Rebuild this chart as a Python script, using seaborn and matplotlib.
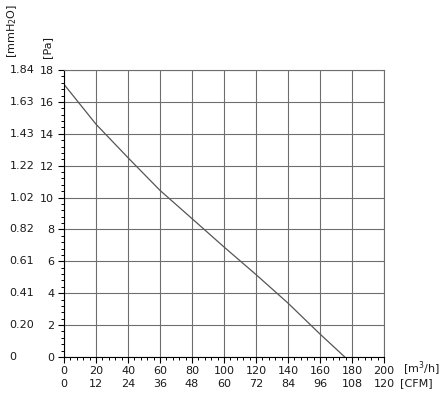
import matplotlib
matplotlib.use("Agg")
import matplotlib.pyplot as plt
import matplotlib.transforms as mtransforms
from matplotlib.ticker import MultipleLocator
import seaborn as sns
import pandas as pd

# Data
flow_m3h = [0, 20, 40, 60, 80, 100, 120, 140, 160, 175.5]
pressure_pa = [17.1, 14.6, 12.5, 10.45, 8.68, 6.9, 5.17, 3.38, 1.44, 0.0]

x_ticks = [0, 20, 40, 60, 80, 100, 120, 140, 160, 180, 200]
cfm_labels = ["0", "12", "24", "36", "48", "60", "72", "84", "96", "108", "120"]
pa_ticks = [0, 2, 4, 6, 8, 10, 12, 14, 16, 18]
mmh2o_labels = ["0", "0.20", "0.41", "0.61", "0.82", "1.02", "1.22", "1.43", "1.63", "1.84"]

sns.set_style("white")
plt.rcParams["font.family"] = ["DejaVu Sans"]
FS = 8
TC = "#1a1a1a"

df = pd.DataFrame({"flow": flow_m3h, "pa": pressure_pa})

W, H = 444, 394
fig = plt.figure(figsize=(W / 100, H / 100), dpi=100)
ax = fig.add_axes([64 / W, (H - 357) / H, 320 / W, 287 / H])

grid_c = "#6e6e6e"
sns.lineplot(data=df, x="flow", y="pa", ax=ax, color="#555555", linewidth=0.9)

ax.set_xlim(0, 200)
ax.set_ylim(0, 18)
ax.set_xticks(x_ticks)
ax.set_xticklabels([f"{a}\n{b}" for a, b in zip(x_ticks, cfm_labels)],
                   fontsize=FS, linespacing=1.35, color=TC)
ax.set_yticks(pa_ticks)
ax.set_yticklabels([str(v) for v in pa_ticks], fontsize=FS, color=TC)
ax.xaxis.set_minor_locator(MultipleLocator(4))
ax.yaxis.set_minor_locator(MultipleLocator(0.4))
ax.tick_params(axis="both", which="major", direction="out", length=4, width=0.8,
               color="black", bottom=True, left=True)
ax.tick_params(axis="both", which="minor", direction="out", length=2.5, width=0.7,
               color="black", bottom=True, left=True)
ax.tick_params(axis="y", which="major", pad=3)
ax.tick_params(axis="x", which="major", pad=2.5)
ax.grid(True, which="major", color=grid_c, linewidth=0.8)
ax.set_axisbelow(True)
ax.set_xlabel("")
ax.set_ylabel("")
for s in ["left", "bottom"]:
    ax.spines[s].set_color("black")
    ax.spines[s].set_linewidth(0.8)
for s in ["top", "right"]:
    ax.spines[s].set_color(grid_c)
    ax.spines[s].set_linewidth(0.8)

# mmH2O labels (left-aligned column)
trans = mtransforms.blended_transform_factory(fig.transFigure, ax.transData)
for v, lab in zip(pa_ticks, mmh2o_labels):
    ax.text(9.5 / W, v, lab, transform=trans, ha="left", va="center",
            fontsize=FS, color=TC)

# Axis unit labels
fig.text(12 / W, 1 - 4 / H, "[mmH$_2$O]", rotation=90, ha="center", va="top",
         fontsize=FS, color=TC)
fig.text(47 / W, 1 - 58 / H, "[Pa]", rotation=90, ha="center", va="bottom",
         fontsize=FS, color=TC)
fig.text(403 / W, 1 - 369 / H, "[m$^3$/h]", ha="left", va="center",
         fontsize=FS, color=TC)
fig.text(400 / W, 1 - 383 / H, "[CFM]", ha="left", va="center",
         fontsize=FS, color=TC)

fig.savefig("out.png", dpi=100)
